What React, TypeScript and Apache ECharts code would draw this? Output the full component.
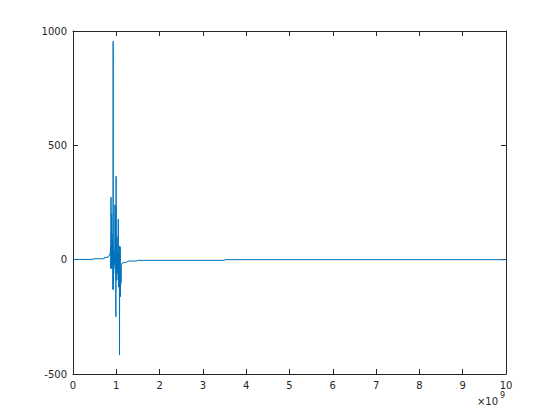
import React, { useEffect, useRef } from "react";
import * as echarts from "echarts";

// frequency in units of 1e9
const freqValues = [
  0, 0.46, 0.465, 0.72, 0.725, 0.81, 0.815, 0.85, 0.86,
  0.87, 0.875, 0.878, 0.882, 0.886, 0.89, 0.894, 0.898, 0.902, 0.906,
  0.91, 0.914, 0.918, 0.922, 0.928, 0.932, 0.936, 0.94, 0.946, 0.952,
  0.958, 0.964, 0.97, 0.976, 0.986, 0.99, 0.996, 1.0, 1.006, 1.012,
  1.018, 1.024, 1.03, 1.036, 1.046, 1.05, 1.056, 1.062, 1.066, 1.07,
  1.074, 1.078, 1.082, 1.086, 1.09, 1.094, 1.098, 1.1, 1.104, 1.108,
  1.112, 1.118, 1.125, 1.13, 1.25, 1.27, 1.48, 1.485, 3.5, 3.505, 10,
];
const responseValues = [
  1, 1, 4, 4, 10, 10, 16, 20, 30,
  60, -40, 273, -35, 115, -37, 200, 20, 110, -30,
  90, -20, 30, -130, 955, -130, 20, -60, 40, -23,
  10, -20, 240, -40, 230, -250, 365, -70, 40, -90,
  100, -60, 20, -40, 178, -120, 30, -80, -25, 60,
  -417, 20, -120, -30, 57, -162, -60, -110, -40, -100,
  -50, -30, -20, -15, -10, -6, -6, -3, -3, 0, 0,
];

const xTicks = [0, 1, 2, 3, 4, 5, 6, 7, 8, 9, 10];
const yTicks = [-500, 0, 500, 1000];

export default function App() {
  const ref = useRef<HTMLDivElement>(null);
  useEffect(() => {
    if (!ref.current) return;
    const chart = echarts.init(ref.current, null, { renderer: "svg" });
    const data = freqValues.map((f, i) => [f, responseValues[i]]);
    const axisCommon = {
      axisLine: { show: true, onZero: false, lineStyle: { color: "#262626", width: 1 } },
      axisTick: { show: true, inside: true, length: 5, lineStyle: { color: "#262626", width: 1 } },
      splitLine: { show: false },
    };
    const labelStyle = {
      color: "#262626", fontSize: 10, fontFamily: "DejaVu Sans",
      formatter: (v: number) => String(v),
    };
    chart.setOption({
      animation: false,
      backgroundColor: "#ffffff",
      grid: { left: 73, right: 54, top: 31, bottom: 46, containLabel: false },
      xAxis: [
        {
          type: "value", min: xTicks[0], max: xTicks[xTicks.length - 1], interval: 1,
          position: "bottom", ...axisCommon,
          axisLabel: { ...labelStyle, margin: 6 },
        },
        {
          type: "value", min: xTicks[0], max: xTicks[xTicks.length - 1], interval: 1,
          position: "top", ...axisCommon, axisLabel: { show: false },
        },
      ],
      yAxis: [
        {
          type: "value", min: yTicks[0], max: yTicks[yTicks.length - 1], interval: 500,
          position: "left", ...axisCommon,
          axisLabel: { ...labelStyle, margin: 6 },
        },
        {
          type: "value", min: yTicks[0], max: yTicks[yTicks.length - 1], interval: 500,
          position: "right", ...axisCommon, axisLabel: { show: false },
        },
      ],
      series: [
        {
          type: "line",
          data,
          xAxisIndex: 0,
          yAxisIndex: 0,
          showSymbol: false,
          symbol: "none",
          lineStyle: { color: "#0072BD", width: 1 },
        },
      ],
      graphic: [
        {
          type: "text", right: 62, top: 396,
          style: { text: "×10", fill: "#262626", font: "10px 'DejaVu Sans'" },
        },
        {
          type: "text", right: 55, top: 391,
          style: { text: "9", fill: "#262626", font: "8px 'DejaVu Sans'" },
        },
      ],
    });
    return () => chart.dispose();
  }, []);
  return <div ref={ref} style={{ width: 560, height: 420, position: "absolute", left: 0, top: 0 }} />;
}
